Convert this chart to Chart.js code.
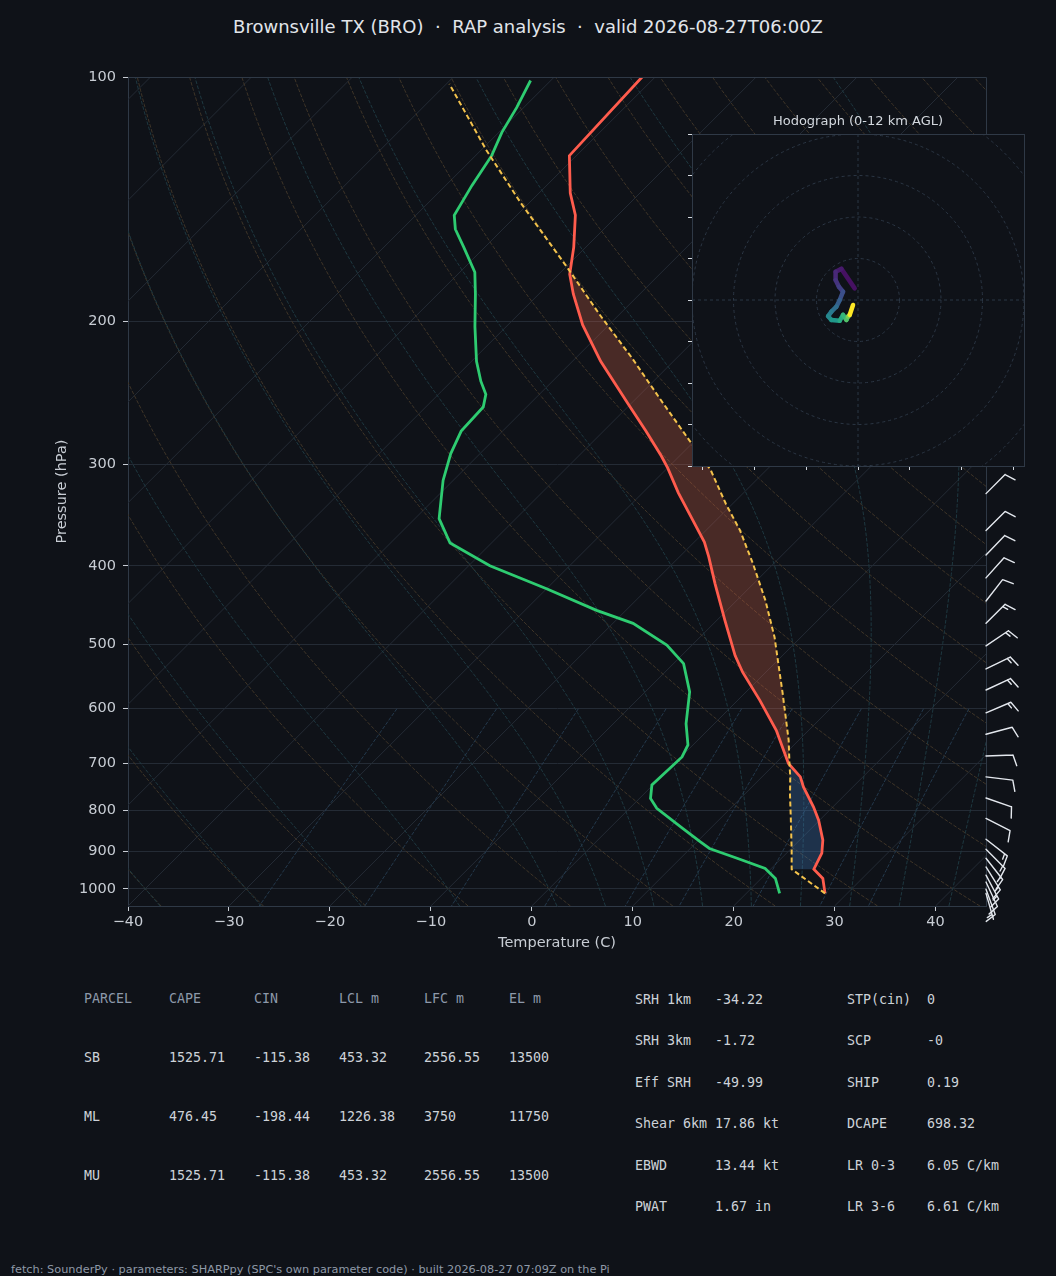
<!DOCTYPE html>
<html lang="en">
<head>
<meta charset="utf-8">
<title>Brownsville TX (BRO) sounding</title>
<script src="https://cdn.jsdelivr.net/npm/chart.js@4.4.1/dist/chart.umd.min.js"></script>
<style>
  html, body { margin: 0; padding: 0; background: #0f1218; }
  body { position: relative; width: 1056px; height: 1276px; overflow: hidden; font-family: "DejaVu Sans", sans-serif; }
  #title { position: absolute; left: 0; top: 16px; width: 1056px; text-align: center; font-size: 18px; line-height: 22px; color: #e1e5ea; white-space: pre; }
  #skew { position: absolute; left: 0; top: 0; }
  #hodo { position: absolute; left: 668px; top: 100px; }
  .cell { position: absolute; font-family: "DejaVu Sans Mono", monospace; font-size: 13.3px; line-height: 16px; white-space: pre; color: #cdd2d9; }
  .cell.head { color: #8d99aa; }
  #footer { position: absolute; left: 11px; top: 1263px; font-size: 11.3px; line-height: 13px; color: #8e99a7; white-space: pre; }
</style>
</head>
<body>
<div id="title">Brownsville TX (BRO)  ·  RAP analysis  ·  valid 2026-08-27T06:00Z</div>
<canvas id="skew" width="1056" height="960"></canvas>
<canvas id="hodo" width="380" height="380"></canvas>
<div id="tables"></div>
<div id="footer">fetch: SounderPy · parameters: SHARPpy (SPC's own parameter code) · built 2026-08-27 07:09Z on the Pi</div>

<script>
// Sounding values (hPa, degC)
const envP = [1013, 971, 946, 904, 871, 823, 793, 749, 728, 701, 638, 586, 541, 516, 467, 421, 390, 374, 349, 325, 303, 293, 273, 253, 224, 202, 185, 175, 162, 148, 139, 125, 100];
const envT = [27.8, 26.1, 24.3, 23.5, 22.3, 19.9, 18.1, 15.1, 13.8, 11.3, 6.8, 2.2, -2.3, -4.7, -9.2, -13.8, -17.1, -19.0, -22.7, -26.5, -30.0, -31.8, -35.8, -40.2, -47.2, -52.6, -56.6, -58.9, -61.2, -64.2, -66.9, -70.7, -71.3];

const dewP = [1013, 971, 944, 917, 892, 875, 843, 796, 774, 745, 688, 665, 626, 572, 528, 501, 471, 454, 427, 400, 375, 350, 314, 291, 273, 255, 246, 237, 224, 203, 185, 174, 162, 154, 148, 136, 125, 117, 109, 101];
const dewT = [23.3, 21.4, 19.4, 15.6, 11.9, 10.3, 7.3, 2.7, 1.1, -0.1, 0.1, -0.5, -2.8, -5.6, -9.0, -12.5, -18.0, -22.9, -30.0, -37.9, -44.1, -47.6, -51.0, -52.9, -54.1, -54.3, -55.3, -57.1, -59.5, -63.1, -66.3, -68.5, -72.1, -74.7, -76.2, -77.4, -78.4, -79.7, -80.7, -82.0];

const parcelP = [1013, 946, 896, 815, 767, 728, 701, 656, 575, 490, 441, 398, 362, 336, 305, 283, 250, 222, 196, 172, 143, 123, 102];
const parcelT = [27.8, 22.1, 20.2, 16.8, 14.6, 12.8, 11.4, 9.0, 3.8, -2.6, -7.2, -12.0, -16.6, -20.6, -25.5, -30.0, -37.4, -44.4, -52.0, -59.7, -70.8, -79.5, -89.7];

// Wind barbs on the right edge (direction wind blows from, deg; speed kt)
const barbP   = [326, 362, 388, 414, 442, 471, 502, 536, 569, 607, 645, 686, 728, 773, 819, 869, 894, 917, 940, 962, 981, 1001, 1013];
const barbDir = [45, 45, 44, 42, 38, 45, 56, 64, 65, 67, 75, 88, 97, 109, 117, 128, 135, 142, 148, 152, 155, 160, 164];
const barbSpd = [10, 10, 10, 10, 10, 15, 15, 15, 15, 15, 10, 10, 10, 10, 10, 15, 15, 15, 15, 15, 10, 10, 5];

// Hodograph trace (kt) and height (km AGL) for the colour ramp
const hodoU = [-1.6, -8.0, -10.8, -10.8, -9.2, -7.2, -8.8, -10.4, -12.8, -14.4, -12.8, -8.8, -7.2, -5.6, -4.8, -4.0, -2.4];
const hodoV = [5.6, 15.0, 13.6, 9.6, 6.4, 4.0, 0.0, -3.2, -5.6, -7.8, -9.6, -10.0, -7.2, -9.6, -8.0, -7.2, -2.4];
const hodoZ = [0, 0.6, 1.0, 1.5, 2.0, 2.5, 3.3, 4.0, 4.8, 5.6, 6.3, 7.2, 8.2, 9.0, 9.8, 10.6, 12.0];

// Axis ticks
const pTicks = [100, 200, 300, 400, 500, 600, 700, 800, 900, 1000];
const tTicks = [-40, -30, -20, -10, 0, 10, 20, 30, 40];
const hodoTicksX = [-75, -50, -25, 0, 25, 50, 75];
const hodoTicksY = [-80, -60, -40, -20, 0, 20, 40, 60, 80];

// Parameter tables
const parcelHead = ['PARCEL', 'CAPE', 'CIN', 'LCL m', 'LFC m', 'EL m'];
const parcelRows = [
  ['SB', '1525.71', '-115.38', '453.32', '2556.55', '13500'],
  ['ML', '476.45', '-198.44', '1226.38', '3750', '11750'],
  ['MU', '1525.71', '-115.38', '453.32', '2556.55', '13500']
];
const idxNames1 = ['SRH 1km', 'SRH 3km', 'Eff SRH', 'Shear 6km', 'EBWD', 'PWAT'];
const idxVals1  = ['-34.22', '-1.72', '-49.99', '17.86 kt', '13.44 kt', '1.67 in'];
const idxNames2 = ['STP(cin)', 'SCP', 'SHIP', 'DCAPE', 'LR 0-3', 'LR 3-6'];
const idxVals2  = ['0', '-0', '0.19', '698.32', '6.05 C/km', '6.61 C/km'];

// ---- styling ----
Chart.defaults.font.family = '"DejaVu Sans", sans-serif';
const BG = '#0f1218';
const GRID = '#242b35';
const SPINE = '#2f3946';
const TICK = '#c8cdd4';
const DRY = '#3f3528';
const MOIST = '#1e3840';
const MIX = '#24394c';

// ---- skew-T geometry ----
const P_BOT = 1050, P_TOP = 100;
const SKEW = 82.23;   // degC shift bottom->top, 45 deg in the 858x830 box
const LOG_SPAN = Math.log(P_BOT / P_TOP);
function skewX(t, p) { return t + SKEW * Math.log(P_BOT / p) / LOG_SPAN; }
function profile(ps, ts) { return ps.map((p, i) => ({ x: skewX(ts[i], p), y: p })); }
function minus(v) { return v < 0 ? '\u2212' + Math.abs(v) : String(v); }

// thermodynamic reference lines (MetPy defaults)
const Rd = 287.04749, Cp = 1004.6662, Lv = 2.50084e6, EPS = 0.621957;
function satVap(tk) { const tc = tk - 273.15; return 6.112 * Math.exp(17.67 * tc / (tc + 243.5)); }
function moistRate(tk, lnp) {
  const p = Math.exp(lnp), es = satVap(tk), rs = EPS * es / (p - es);
  return (Rd * tk + Lv * rs) / (Cp + Lv * Lv * rs * EPS / (Rd * tk * tk));
}
const refP = [];
for (let i = 0; i <= 60; i++) refP.push(P_BOT * Math.pow(P_TOP / P_BOT, i / 60));

const dryLines = [];
for (let t0 = -40; t0 <= 240; t0 += 10) {
  dryLines.push(refP.map(p => [(t0 + 273.15) * Math.pow(p / 1000, Rd / Cp) - 273.15, p]));
}
const moistStarts = [-40, -30, -20, -10, 0, 5, 10, 15, 20, 25, 30, 35, 40, 45];
const moistLines = moistStarts.map(t0 => refP.map(p => {
  let tk = t0 + 273.15, lnp = Math.log(1000);
  const target = Math.log(p);
  const n = Math.max(2, Math.ceil(Math.abs(target - lnp) / 0.02));
  const h = (target - lnp) / n;
  for (let i = 0; i < n; i++) {
    const k1 = moistRate(tk, lnp);
    const k2 = moistRate(tk + h * k1 / 2, lnp + h / 2);
    const k3 = moistRate(tk + h * k2 / 2, lnp + h / 2);
    const k4 = moistRate(tk + h * k3, lnp + h);
    tk += h * (k1 + 2 * k2 + 2 * k3 + k4) / 6;
    lnp += h;
  }
  return [tk - 273.15, p];
}));
const mixRatios = [0.0004, 0.001, 0.002, 0.004, 0.007, 0.01, 0.016, 0.024, 0.032];
const mixP = [600, 650, 700, 750, 800, 850, 900, 950, 1000, 1050];
const mixLines = mixRatios.map(w => mixP.map(p => {
  const e = w * p / (EPS + w), l = Math.log(e / 6.112);
  return [243.5 * l / (17.67 - l), p];
}));

function interpLogP(ps, ts, p) {
  for (let i = 0; i < ps.length - 1; i++) {
    if (p <= ps[i] && p >= ps[i + 1]) {
      const f = Math.log(ps[i] / p) / Math.log(ps[i] / ps[i + 1]);
      return ts[i] + f * (ts[i + 1] - ts[i]);
    }
  }
  return p > ps[0] ? ts[0] : ts[ts.length - 1];
}

// ---- plugins ----
const skewBackground = {
  id: 'skewBackground',
  beforeDatasetsDraw(chart) {
    const { ctx, chartArea: a, scales: { x, y } } = chart;
    const path = pts => {
      ctx.beginPath();
      pts.forEach(([t, p], i) => {
        const px = x.getPixelForValue(skewX(t, p)), py = y.getPixelForValue(p);
        if (i) ctx.lineTo(px, py); else ctx.moveTo(px, py);
      });
      ctx.stroke();
    };
    ctx.save();
    ctx.beginPath();
    ctx.rect(a.left, a.top, a.right - a.left, a.bottom - a.top);
    ctx.clip();
    ctx.lineWidth = 1;

    ctx.strokeStyle = GRID;
    ctx.setLineDash([]);
    for (let t = -120; t <= 40; t += 10) path([[t, P_BOT], [t, P_TOP]]);

    ctx.setLineDash([3.7, 1.6]);
    ctx.strokeStyle = DRY;
    dryLines.forEach(path);
    ctx.strokeStyle = MOIST;
    moistLines.forEach(path);
    ctx.strokeStyle = MIX;
    mixLines.forEach(path);

    // CIN / CAPE shading between parcel and environment, from the LCL upward
    const lo = Math.log(parcelP[1]), hi = Math.log(P_TOP), n = 600;
    const runs = [];
    let cur = null, prev = null;
    for (let i = 0; i <= n; i++) {
      const p = Math.exp(lo + (hi - lo) * i / n);
      const s = { p, te: interpLogP(envP, envT, p), tp: interpLogP(parcelP, parcelT, p) };
      const sign = s.tp - s.te >= 0 ? 1 : -1;
      if (!cur) { cur = { sign, pts: [s] }; prev = s; continue; }
      if (sign !== cur.sign) {
        const d0 = prev.tp - prev.te, d1 = s.tp - s.te, f = d0 / (d0 - d1);
        const pc = Math.exp(Math.log(prev.p) + f * Math.log(s.p / prev.p));
        const tc = prev.te + f * (s.te - prev.te);
        const c = { p: pc, te: tc, tp: tc };
        cur.pts.push(c);
        runs.push(cur);
        cur = { sign, pts: [c, s] };
      } else {
        cur.pts.push(s);
      }
      prev = s;
    }
    runs.push(cur);
    const fillRun = (run, color) => {
      ctx.beginPath();
      run.pts.forEach((s, i) => {
        const px = x.getPixelForValue(skewX(s.te, s.p)), py = y.getPixelForValue(s.p);
        if (i) ctx.lineTo(px, py); else ctx.moveTo(px, py);
      });
      for (let i = run.pts.length - 1; i >= 0; i--) {
        const s = run.pts[i];
        ctx.lineTo(x.getPixelForValue(skewX(s.tp, s.p)), y.getPixelForValue(s.p));
      }
      ctx.closePath();
      ctx.fillStyle = color;
      ctx.fill();
    };
    ctx.setLineDash([]);
    if (runs[0].sign < 0) fillRun(runs[0], 'rgba(70, 130, 200, 0.29)');
    const capeRun = runs.find(r => r.sign > 0);
    if (capeRun) fillRun(capeRun, 'rgba(225, 105, 75, 0.28)');
    ctx.restore();
  }
};

function drawBarb(ctx, bx, by, spd, dir, L) {
  const a = dir * Math.PI / 180;
  const sx = Math.sin(a), sy = -Math.cos(a);
  const nx = -sy, ny = sx;
  const s = Math.round(spd / 5) * 5;
  const full = Math.floor(s / 10), half = s % 10 >= 5;
  const hgt = 0.4 * L, wid = 0.25 * L, sp = 0.125 * L;
  const tx = bx + L * sx, ty = by + L * sy;
  ctx.beginPath();
  ctx.moveTo(bx, by);
  ctx.lineTo(tx, ty);
  let off = 0;
  for (let i = 0; i < full; i++) {
    const px = tx - off * sx, py = ty - off * sy;
    ctx.moveTo(px, py);
    ctx.lineTo(px + hgt * nx + wid / 2 * sx, py + hgt * ny + wid / 2 * sy);
    off += sp;
  }
  if (half) {
    if (full === 0) off = 1.5 * sp;
    const px = tx - off * sx, py = ty - off * sy;
    ctx.moveTo(px, py);
    ctx.lineTo(px + hgt / 2 * nx + wid / 4 * sx, py + hgt / 2 * ny + wid / 4 * sy);
  }
  ctx.stroke();
}

const windBarbs = {
  id: 'windBarbs',
  afterDraw(chart) {
    const { ctx, chartArea: a, scales: { y } } = chart;
    ctx.save();
    ctx.strokeStyle = '#e4e8ee';
    ctx.lineWidth = 1.4;
    ctx.lineCap = 'round';
    ctx.lineJoin = 'round';
    barbP.forEach((p, i) => drawBarb(ctx, a.right, y.getPixelForValue(p), barbSpd[i], barbDir[i], 27));
    ctx.restore();
  }
};

const frame = {
  id: 'frame',
  afterDatasetsDraw(chart) {
    const { ctx, chartArea: a } = chart;
    ctx.save();
    ctx.strokeStyle = SPINE;
    ctx.lineWidth = 1;
    ctx.beginPath();
    ctx.moveTo(a.left, a.top + 0.5);
    ctx.lineTo(a.right + 0.5, a.top + 0.5);
    ctx.lineTo(a.right + 0.5, a.bottom);
    ctx.stroke();
    ctx.restore();
  }
};

// ---- skew-T chart ----
new Chart(document.getElementById('skew'), {
  type: 'scatter',
  data: {
    datasets: [
      { label: 'Parcel', data: profile(parcelP, parcelT), showLine: true, pointRadius: 0,
        borderColor: '#f3c24c', borderWidth: 2, borderDash: [5, 3] },
      { label: 'Temperature', data: profile(envP, envT), showLine: true, pointRadius: 0,
        borderColor: '#ff5c4d', borderWidth: 2.8 },
      { label: 'Dewpoint', data: profile(dewP, dewT), showLine: true, pointRadius: 0,
        borderColor: '#2ecc71', borderWidth: 2.8 }
    ]
  },
  options: {
    responsive: false,
    animation: false,
    events: [],
    layout: { padding: { left: 0, top: 77, right: 70, bottom: 0 } },
    plugins: { legend: { display: false }, tooltip: { enabled: false } },
    scales: {
      x: {
        type: 'linear', min: -40, max: 45,
        afterFit(s) { s.height = 54; },
        afterBuildTicks(s) { s.ticks = tTicks.map(v => ({ value: v })); },
        ticks: { color: TICK, font: { size: 14.5 }, padding: 3, maxRotation: 0, autoSkip: false, callback: v => minus(v) },
        grid: { drawOnChartArea: false, tickLength: 5, tickColor: TICK },
        border: { color: SPINE },
        title: { display: true, text: 'Temperature (C)', color: TICK, font: { size: 14.5 }, padding: { top: 0, bottom: 8 } }
      },
      y: {
        type: 'logarithmic', reverse: true, min: P_TOP, max: P_BOT,
        afterFit(s) { s.width = 128; },
        afterBuildTicks(s) { s.ticks = pTicks.map(v => ({ value: v })); },
        ticks: { color: TICK, font: { size: 14.5 }, padding: 7, autoSkip: false, callback: v => String(v) },
        grid: { color: GRID, tickLength: 5, tickColor: TICK },
        border: { color: SPINE },
        title: { display: true, text: 'Pressure (hPa)', color: TICK, font: { size: 14.5 }, padding: { top: 54, bottom: 0 } }
      }
    }
  },
  plugins: [skewBackground, frame, windBarbs]
});

// ---- hodograph ----
const viridis = ['#440154', '#482878', '#3e4989', '#31688e', '#26828e', '#1f9e89', '#35b779', '#6ece58', '#fde725'];
function viridisAt(f) {
  f = Math.min(1, Math.max(0, f)) * (viridis.length - 1);
  const i = Math.min(viridis.length - 2, Math.floor(f)), t = f - i;
  const c0 = viridis[i], c1 = viridis[i + 1];
  const ch = (c, k) => parseInt(c.substr(1 + 2 * k, 2), 16);
  const mix = k => Math.round(ch(c0, k) + t * (ch(c1, k) - ch(c0, k)));
  return 'rgb(' + mix(0) + ',' + mix(1) + ',' + mix(2) + ')';
}

const hodoFace = {
  id: 'hodoFace',
  beforeDraw(chart) {
    const { ctx, chartArea: a } = chart;
    ctx.save();
    ctx.fillStyle = BG;
    ctx.fillRect(a.left, a.top, a.right - a.left, a.bottom - a.top);
    ctx.restore();
  },
  beforeDatasetsDraw(chart) {
    const { ctx, chartArea: a, scales: { x, y } } = chart;
    const cx = x.getPixelForValue(0), cy = y.getPixelForValue(0);
    ctx.save();
    ctx.beginPath();
    ctx.rect(a.left, a.top, a.right - a.left, a.bottom - a.top);
    ctx.clip();
    ctx.strokeStyle = '#2b3644';
    ctx.lineWidth = 1;
    ctx.setLineDash([3, 3]);
    for (let r = 20; r <= 120; r += 20) {
      ctx.beginPath();
      ctx.arc(cx, cy, x.getPixelForValue(r) - cx, 0, 2 * Math.PI);
      ctx.stroke();
    }
    ctx.beginPath();
    ctx.moveTo(a.left, cy); ctx.lineTo(a.right, cy);
    ctx.moveTo(cx, a.top); ctx.lineTo(cx, a.bottom);
    ctx.stroke();
    ctx.restore();
  },
  afterDraw(chart) {
    const { ctx, chartArea: a } = chart;
    ctx.save();
    ctx.strokeStyle = SPINE;
    ctx.lineWidth = 1;
    ctx.strokeRect(a.left + 0.5, a.top + 0.5, a.right - a.left, a.bottom - a.top);
    ctx.restore();
  }
};

new Chart(document.getElementById('hodo'), {
  type: 'scatter',
  data: {
    datasets: [{
      data: hodoU.map((u, i) => ({ x: u, y: hodoV[i] })),
      showLine: true, pointRadius: 0, borderWidth: 4.5,
      borderCapStyle: 'round', borderJoinStyle: 'round',
      segment: { borderColor: c => viridisAt(hodoZ[c.p1DataIndex] / 12) }
    }]
  },
  options: {
    responsive: false,
    animation: false,
    events: [],
    layout: { padding: { left: 24, right: 24, top: 0, bottom: 0 } },
    plugins: {
      legend: { display: false },
      tooltip: { enabled: false },
      title: { display: true, text: 'Hodograph (0-12 km AGL)', color: '#d3d8de', font: { size: 13, weight: 'normal' }, padding: { top: 14, bottom: 4.4 } }
    },
    scales: {
      x: {
        type: 'linear', min: -80, max: 80,
        afterFit(s) { s.height = 14; },
        afterBuildTicks(s) { s.ticks = hodoTicksX.map(v => ({ value: v })); },
        ticks: { display: false },
        grid: { drawOnChartArea: false, tickLength: 4, tickColor: '#d3d8de' },
        border: { display: false }
      },
      y: {
        type: 'linear', min: -80, max: 80,
        afterFit(s) { s.width = 0; },
        afterBuildTicks(s) { s.ticks = hodoTicksY.map(v => ({ value: v })); },
        ticks: { display: false },
        grid: { drawOnChartArea: false, tickLength: 4, tickColor: '#d3d8de' },
        border: { display: false }
      }
    }
  },
  plugins: [hodoFace]
});

// ---- parameter tables ----
const tables = document.getElementById('tables');
function cell(text, x, yc, head) {
  const d = document.createElement('div');
  d.className = head ? 'cell head' : 'cell';
  d.style.left = x + 'px';
  d.style.top = (yc - 8) + 'px';
  d.textContent = text;
  tables.appendChild(d);
}
const parcelCols = [84, 169, 254, 339, 424, 509];
const parcelRowY = [999, 1058, 1117, 1176];
parcelHead.forEach((h, j) => cell(h, parcelCols[j], parcelRowY[0], true));
parcelRows.forEach((row, i) => row.forEach((v, j) => cell(v, parcelCols[j], parcelRowY[i + 1], false)));
const idxRowY = [1000, 1041, 1083, 1124, 1166, 1207];
idxNames1.forEach((n, i) => { cell(n, 635, idxRowY[i]); cell(idxVals1[i], 715, idxRowY[i]); });
idxNames2.forEach((n, i) => { cell(n, 847, idxRowY[i]); cell(idxVals2[i], 927, idxRowY[i]); });
</script>
</body>
</html>
